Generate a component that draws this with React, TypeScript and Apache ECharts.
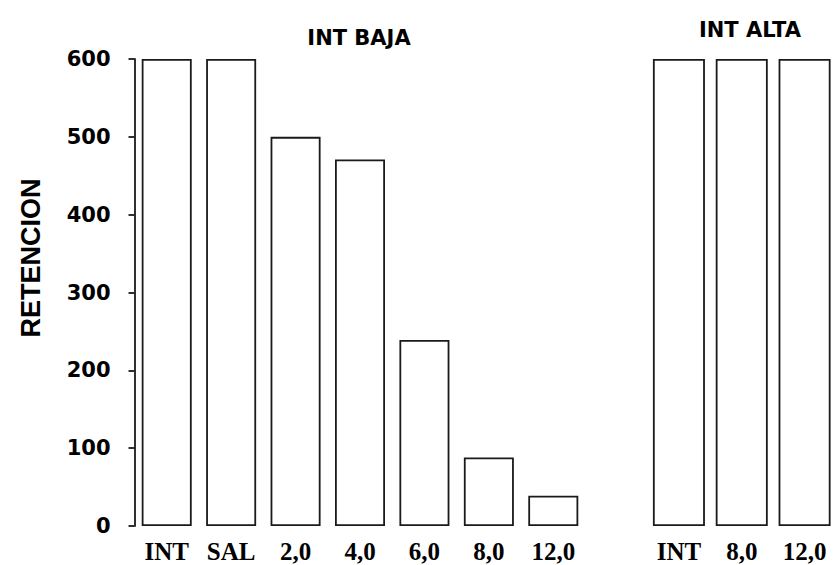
import React, { useEffect, useRef } from "react";
import * as echarts from "echarts";

const lowCategories = ["INT", "SAL", "2,0", "4,0", "6,0", "8,0", "12,0"];
const lowValues = [600, 600, 500, 471, 239, 88, 39];
const highCategories = ["INT", "8,0", "12,0"];
const highValues = [600, 600, 600];
const yTicks = [0, 100, 200, 300, 400, 500, 600];

const barStyle = { color: "#ffffff", borderColor: "#1a1a1a", borderWidth: 1.8 };

export default function App() {
  const ref = useRef<HTMLDivElement>(null);
  useEffect(() => {
    if (!ref.current) return;
    const chart = echarts.init(ref.current, null, { renderer: "svg" });
    const catLabel = {
      fontFamily: "Liberation Serif",
      fontWeight: "bold" as const,
      fontSize: 25,
      color: "#000",
      margin: 13,
      interval: 0,
    };
    const titleStyle = {
      fontFamily: "DejaVu Sans",
      fontWeight: "bold" as const,
      fontSize: 21,
      color: "#000",
    };
    chart.setOption({
      animation: false,
      backgroundColor: "#ffffff",
      grid: [
        { left: 134.5, top: 59, width: 451, height: 467 },
        { left: 647.5, top: 59, width: 193.5, height: 467 },
      ],
      xAxis: [
        {
          type: "category",
          gridIndex: 0,
          data: lowCategories,
          axisLine: { show: false },
          axisTick: { show: false },
          axisLabel: catLabel,
        },
        {
          type: "category",
          gridIndex: 1,
          data: highCategories,
          axisLine: { show: false },
          axisTick: { show: false },
          axisLabel: catLabel,
        },
      ],
      yAxis: [
        {
          type: "value",
          gridIndex: 0,
          min: yTicks[0],
          max: yTicks[yTicks.length - 1],
          interval: 100,
          axisLine: { show: true, lineStyle: { color: "#1a1a1a", width: 1.8 } },
          axisTick: { show: true, length: 6, lineStyle: { color: "#1a1a1a", width: 1.8 } },
          axisLabel: {
            fontFamily: "DejaVu Sans",
            fontWeight: "bold",
            fontSize: 21,
            color: "#000",
            margin: 24,
          },
          splitLine: { show: false },
        },
        {
          type: "value",
          gridIndex: 1,
          min: yTicks[0],
          max: yTicks[yTicks.length - 1],
          interval: 100,
          axisLine: { show: false },
          axisTick: { show: false },
          axisLabel: { show: false },
          splitLine: { show: false },
        },
      ],
      title: [
        {
          text: "INT BAJA",
          left: 354,
          top: 22,
          textAlign: "center",
          textStyle: titleStyle,
        },
        {
          text: "INT ALTA",
          left: 745,
          top: 14,
          textAlign: "center",
          textStyle: titleStyle,
        },
      ],
      graphic: [
        {
          type: "text",
          x: 31,
          y: 258,
          rotation: Math.PI / 2,
          style: {
            text: "RETENCION",
            fill: "#000",
            font: "bold 27px 'Liberation Sans'",
            textAlign: "center",
            textVerticalAlign: "middle",
          },
        },
      ],
      series: [
        {
          type: "bar",
          xAxisIndex: 0,
          yAxisIndex: 0,
          data: lowValues,
          barWidth: 50,
          itemStyle: barStyle,
        },
        {
          type: "bar",
          xAxisIndex: 1,
          yAxisIndex: 1,
          data: highValues,
          barWidth: 52,
          itemStyle: barStyle,
        },
      ],
    });
    return () => chart.dispose();
  }, []);
  return (
    <div
      ref={ref}
      style={{ position: "fixed", left: 0, top: 0, width: 836, height: 565, background: "#fff" }}
    />
  );
}
